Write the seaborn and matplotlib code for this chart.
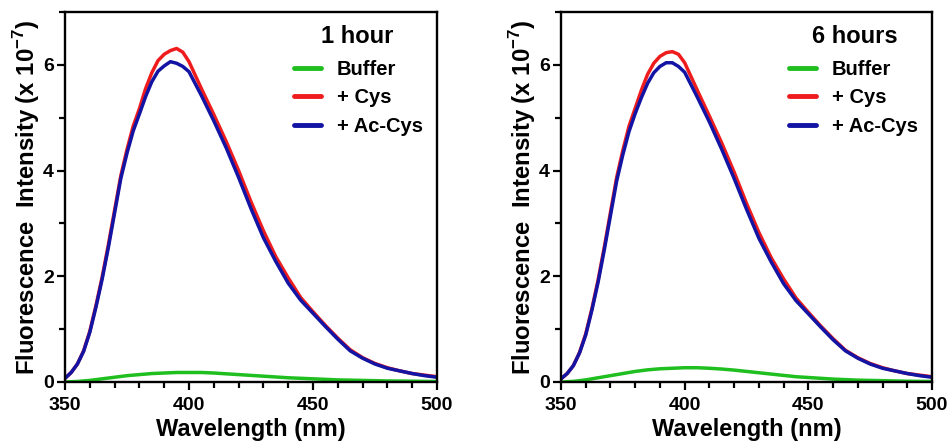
import numpy as np
import pandas as pd
import seaborn as sns
import matplotlib
matplotlib.use("Agg")
import matplotlib.pyplot as plt
from matplotlib.ticker import MultipleLocator

wavelength = [350, 352.5, 355, 357.5, 360, 362.5, 365, 367.5, 370, 372.5, 375, 377.5,
              380, 382.5, 385, 387.5, 390, 392.5, 395, 397.5, 400, 405, 410, 415, 420,
              425, 430, 435, 440, 445, 450, 455, 460, 465, 470, 475, 480, 485, 490, 495, 500]

conditions = ["Buffer", "+ Cys", "+ Ac-Cys"]
panel_titles = ["1 hour", "6 hours"]

buffer_1h = [0, 0.005, 0.01, 0.02, 0.03, 0.045, 0.06, 0.075, 0.09, 0.105, 0.12, 0.13, 0.14,
             0.15, 0.16, 0.165, 0.17, 0.175, 0.18, 0.18, 0.18,
             0.18, 0.17, 0.155, 0.14, 0.125, 0.11, 0.095, 0.08, 0.07, 0.06, 0.05, 0.04,
             0.035, 0.03, 0.025, 0.02, 0.018, 0.015, 0.012, 0.01]
cys_1h = [0.07, 0.18, 0.34, 0.59, 0.96, 1.45, 1.99, 2.60, 3.25, 3.90,
          4.40, 4.84, 5.17, 5.55, 5.85, 6.08, 6.20, 6.27, 6.31, 6.24,
          6.06, 5.55, 5.06, 4.55, 4.00, 3.41, 2.86, 2.37, 1.97, 1.60,
          1.33, 1.07, 0.83, 0.61, 0.46, 0.35, 0.27, 0.21, 0.16, 0.13, 0.10]
accys_1h = [0.07, 0.18, 0.34, 0.58, 0.94, 1.42, 1.95, 2.55, 3.20, 3.85,
            4.33, 4.75, 5.07, 5.40, 5.68, 5.88, 5.98, 6.06, 6.03, 5.97,
            5.87, 5.42, 4.94, 4.43, 3.87, 3.28, 2.73, 2.28, 1.87, 1.55,
            1.30, 1.05, 0.81, 0.59, 0.45, 0.34, 0.26, 0.21, 0.16, 0.12, 0.09]

buffer_6h = [0, 0.005, 0.012, 0.025, 0.04, 0.06, 0.08, 0.10, 0.12, 0.14, 0.16, 0.18, 0.20,
             0.215, 0.23, 0.24, 0.25, 0.255, 0.26, 0.265, 0.27,
             0.27, 0.26, 0.245, 0.225, 0.20, 0.175, 0.15, 0.125, 0.10, 0.085, 0.07, 0.055,
             0.045, 0.035, 0.03, 0.025, 0.02, 0.015, 0.012, 0.01]
cys_6h = [0.06, 0.16, 0.31, 0.56, 0.91, 1.39, 1.93, 2.55, 3.21, 3.87,
          4.38, 4.84, 5.18, 5.52, 5.82, 6.03, 6.16, 6.23, 6.25, 6.20,
          6.04, 5.53, 5.03, 4.52, 3.97, 3.38, 2.83, 2.35, 1.95, 1.59,
          1.32, 1.06, 0.82, 0.60, 0.46, 0.35, 0.27, 0.21, 0.16, 0.13, 0.10]
accys_6h = [0.06, 0.16, 0.31, 0.55, 0.89, 1.36, 1.89, 2.50, 3.15, 3.80,
            4.30, 4.74, 5.08, 5.38, 5.65, 5.85, 5.97, 6.04, 6.04, 5.97,
            5.86, 5.40, 4.92, 4.40, 3.85, 3.27, 2.72, 2.27, 1.86, 1.54,
            1.29, 1.04, 0.80, 0.59, 0.45, 0.34, 0.26, 0.21, 0.16, 0.12, 0.09]

palette = {"Buffer": "#1fbf1f", "+ Cys": "#ee1c1c", "+ Ac-Cys": "#1414a4"}

sns.set_theme(style="ticks")
plt.rcParams["font.family"] = ["Liberation Sans", "DejaVu Sans"]
plt.rcParams["font.weight"] = "bold"
plt.rcParams["text.color"] = "black"
plt.rcParams["axes.labelcolor"] = "black"
plt.rcParams["xtick.color"] = "black"
plt.rcParams["ytick.color"] = "black"
plt.rcParams["mathtext.fontset"] = "custom"
plt.rcParams["mathtext.bf"] = "Liberation Sans:bold"
plt.rcParams["mathtext.rm"] = "Liberation Sans:bold"

fig = plt.figure(figsize=(9.49, 4.45), dpi=100)
axes = [fig.add_axes([65 / 949, 63 / 445, 372 / 949, 370 / 445]),
        fig.add_axes([561 / 949, 63 / 445, 371 / 949, 370 / 445])]

panels = [(buffer_1h, cys_1h, accys_1h), (buffer_6h, cys_6h, accys_6h)]
title_x = [0.785, 0.792]

for ax, series, title, tx in zip(axes, panels, panel_titles, title_x):
    frames = []
    for cond, vals in zip(conditions, series):
        frames.append(pd.DataFrame({"Wavelength": wavelength, "Intensity": vals, "Condition": cond}))
    df = pd.concat(frames, ignore_index=True)
    sns.lineplot(data=df, x="Wavelength", y="Intensity", hue="Condition", hue_order=conditions,
                 palette=palette, linewidth=2.5, ax=ax, legend=True)
    ax.set_xlim(350, 500)
    ax.set_ylim(0, 7)
    ax.xaxis.set_major_locator(MultipleLocator(50))
    ax.xaxis.set_minor_locator(MultipleLocator(10))
    ax.yaxis.set_minor_locator(MultipleLocator(1))
    ax.set_yticks([0, 2, 4, 6])
    ax.tick_params(axis="both", which="major", length=6, width=1.6, labelsize=14)
    ax.tick_params(axis="x", which="major", pad=5)
    ax.tick_params(axis="y", which="major", pad=2)
    ax.tick_params(axis="both", which="minor", length=4, width=1.6)
    for lab in ax.get_xticklabels() + ax.get_yticklabels():
        lab.set_fontweight("bold")
    for sp in ax.spines.values():
        sp.set_linewidth(1.7)
        sp.set_color("black")
    ax.set_xlabel("Wavelength (nm)", fontsize=17, fontweight="bold", labelpad=3)
    ax.set_ylabel("Fluorescence  Intensity (x 10$^{\\mathbf{-7}}$)", fontsize=17.2,
                  fontweight="bold", labelpad=0.5)
    leg = ax.legend(loc="center right", bbox_to_anchor=(1.01, 0.7676), frameon=False,
                    fontsize=14.5, handlelength=1.35, handletextpad=0.75, labelspacing=0.47)
    for line in leg.get_lines():
        line.set_linewidth(3.5)
    for t in leg.get_texts():
        t.set_fontweight("bold")
    ax.text(tx, 0.935, title, transform=ax.transAxes, ha="center", va="center",
            fontsize=17, fontweight="bold")

fig.savefig("out.png", dpi=100)
